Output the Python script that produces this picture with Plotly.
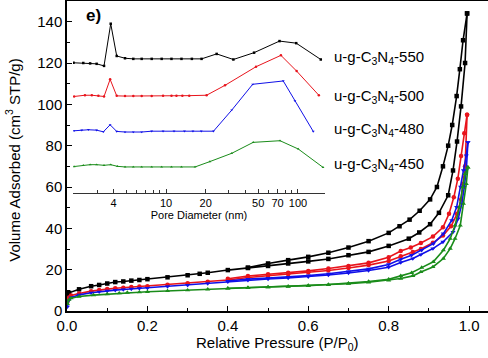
import plotly.graph_objects as go

# ---------------- main isotherm data (P/P0, volume adsorbed) ----------------
ads_550_x = [0.001, 0.005, 0.03, 0.06, 0.08, 0.10, 0.12, 0.14, 0.16, 0.18, 0.20, 0.25, 0.30, 0.33, 0.35, 0.40,
             0.45, 0.50, 0.55, 0.60, 0.65, 0.70, 0.75, 0.80, 0.85, 0.876, 0.903, 0.925, 0.948, 0.96, 0.97, 0.98, 0.99, 0.995]
ads_550_y = [7.5, 8.8, 10.5, 12.0, 12.6, 13.3, 14.0, 14.3, 14.7, 15.0, 15.4, 16.3, 17.3, 18.0, 18.5, 19.8,
             20.8, 21.8, 23.0, 24.0, 25.2, 27.0, 28.6, 31.5, 35.0, 38.0, 42.0, 47.5, 56.0, 68.0, 82.0, 99.0, 120.0, 144.0]
des_550_x = [0.995, 0.985, 0.977, 0.969, 0.958, 0.948, 0.935, 0.92, 0.903, 0.877, 0.852, 0.827, 0.80, 0.75,
             0.70, 0.65, 0.60, 0.55, 0.50, 0.45]
des_550_y = [144.0, 131.0, 117.0, 104.0, 90.0, 80.0, 70.0, 60.0, 54.0, 48.5, 44.2, 41.0, 37.8, 33.8,
             30.7, 28.2, 26.2, 24.6, 23.0, 21.0]

ads_500_x = [0.001, 0.005, 0.01, 0.03, 0.06, 0.08, 0.10, 0.12, 0.14, 0.16, 0.18, 0.20, 0.25, 0.30, 0.35, 0.40,
             0.45, 0.50, 0.55, 0.60, 0.65, 0.70, 0.75, 0.80, 0.83, 0.86, 0.88, 0.91, 0.935, 0.955, 0.97, 0.98, 0.985, 0.99, 0.995]
ads_500_y = [4.5, 6.5, 7.5, 8.5, 9.6, 10.2, 10.6, 11.0, 11.3, 11.6, 11.8, 12.0, 12.7, 13.4, 14.2, 15.0,
             16.2, 17.0, 17.8, 18.6, 19.6, 20.8, 22.2, 24.2, 26.5, 28.5, 30.0, 33.0, 36.5, 41.0, 47.0, 54.0, 61.5, 70.0, 95.0]
des_500_x = [0.995, 0.988, 0.98, 0.972, 0.962, 0.95, 0.935, 0.91, 0.88, 0.855, 0.83, 0.80, 0.75, 0.70,
             0.65, 0.60, 0.55, 0.50, 0.45, 0.40]
des_500_y = [95.0, 86.0, 75.0, 64.0, 55.0, 47.0, 40.5, 36.0, 32.9, 30.7, 29.0, 26.0, 23.3, 21.8,
             20.6, 19.4, 18.5, 17.8, 16.9, 15.6]

ads_480_x = [0.001, 0.004, 0.01, 0.03, 0.06, 0.08, 0.10, 0.12, 0.14, 0.16, 0.18, 0.20, 0.25, 0.30, 0.35, 0.40,
             0.45, 0.50, 0.55, 0.60, 0.65, 0.70, 0.75, 0.80, 0.83, 0.86, 0.88, 0.91, 0.935, 0.96, 0.973, 0.982, 0.988, 0.993, 0.997]
ads_480_y = [2.0, 5.0, 6.5, 7.8, 8.8, 9.3, 9.7, 10.1, 10.4, 10.7, 10.9, 11.1, 11.8, 12.5, 13.3, 14.1,
             14.9, 15.5, 16.0, 16.6, 17.4, 18.4, 19.6, 21.2, 23.5, 25.4, 27.3, 30.2, 33.4, 38.2, 44.7, 52.0, 60.0, 68.0, 81.6]
des_480_x = [0.997, 0.993, 0.986, 0.979, 0.969, 0.957, 0.936, 0.911, 0.882, 0.857, 0.83, 0.80, 0.75, 0.70,
             0.65, 0.60, 0.55, 0.50, 0.45, 0.40]
des_480_y = [81.6, 75.2, 68.0, 60.0, 50.3, 43.9, 37.4, 32.6, 29.4, 27.0, 25.0, 22.5, 20.4, 19.1,
             18.0, 17.1, 16.4, 15.9, 15.4, 14.5]

ads_450_x = [0.001, 0.005, 0.01, 0.03, 0.066, 0.10, 0.13, 0.15, 0.18, 0.20, 0.25, 0.30, 0.35, 0.40,
             0.45, 0.50, 0.55, 0.60, 0.65, 0.70, 0.75, 0.80, 0.83, 0.86, 0.88, 0.91, 0.936, 0.953, 0.965, 0.978, 0.986, 0.993, 0.997]
ads_450_y = [3.5, 5.5, 6.2, 7.0, 7.7, 8.2, 8.6, 8.9, 9.1, 9.3, 9.7, 10.1, 10.5, 10.9,
             11.2, 11.5, 11.8, 12.2, 12.6, 13.2, 13.9, 14.8, 15.7, 17.0, 18.9, 21.3, 25.4, 30.2, 35.0, 41.4, 51.9, 61.5, 69.5]
des_450_x = [0.997, 0.99, 0.984, 0.976, 0.965, 0.953, 0.936, 0.911, 0.882, 0.857, 0.83, 0.80, 0.75, 0.70,
             0.65, 0.60, 0.55, 0.50, 0.45, 0.40]
des_450_y = [69.5, 66.4, 60.0, 50.3, 41.4, 35.0, 29.4, 23.8, 21.0, 18.5, 17.0, 15.4, 14.3, 13.4,
             12.8, 12.3, 11.9, 11.6, 11.3, 11.0]

# ---------------- inset pore size distribution (pore diameter nm, offset curve) ----------------
psd_550_x = [1.99, 2.36, 2.66, 2.98, 3.39, 3.81, 4.23, 4.89, 5.65, 6.54, 7.79, 9.27, 11.0, 13.1, 15.7, 18.6,
             24.2, 32.4, 46.5, 72.5, 97.0, 149.0]
psd_550_y = [120.1, 120.0, 119.8, 119.6, 118.6, 139.0, 123.4, 122.3, 122.0, 122.0, 122.0, 122.0, 122.0, 122.0, 122.0, 122.0,
             124.4, 121.7, 125.0, 130.6, 129.6, 121.7]
psd_500_x = [2.01, 2.43, 2.74, 3.07, 3.39, 3.77, 4.23, 4.89, 5.65, 6.54, 7.79, 9.5, 11.0, 12.0, 13.3, 15.0, 20.3,
             28.0, 48.1, 74.3, 97.7, 144.0]
psd_500_y = [103.8, 104.4, 104.4, 104.2, 103.8, 112.1, 104.1, 104.0, 104.0, 104.0, 104.0, 104.2, 104.2, 104.2, 104.2, 104.2, 104.4,
             109.2, 118.2, 123.7, 116.1, 104.4]
psd_480_x = [2.01, 2.3, 2.58, 2.98, 3.35, 3.77, 4.23, 4.89, 5.65, 6.54, 7.79, 9.5, 11.5, 13.8, 16.0, 18.5, 22.9,
             31.5, 45.4, 77.4, 94.8, 130.6]
psd_480_y = [87.2, 87.5, 87.7, 87.5, 86.7, 90.1, 86.9, 86.6, 86.6, 86.6, 87.0, 87.0, 87.0, 87.0, 87.0, 87.0, 87.0,
             97.2, 109.7, 111.3, 101.7, 86.9]
psd_450_x = [2.01, 2.36, 2.66, 2.98, 3.39, 3.81, 4.28, 4.89, 5.65, 6.54, 7.79, 9.27, 11.0, 13.1, 16.6,
             21.5, 31.5, 45.8, 73.1, 100.5, 154.9]
psd_450_y = [69.9, 70.5, 70.8, 70.8, 70.5, 70.8, 70.0, 69.7, 69.7, 69.7, 69.7, 69.7, 69.7, 69.7, 69.7,
             72.3, 76.3, 81.6, 82.4, 78.4, 69.5]

sample_labels = ["u-g-C<sub>3</sub>N<sub>4</sub>-550", "u-g-C<sub>3</sub>N<sub>4</sub>-500",
                 "u-g-C<sub>3</sub>N<sub>4</sub>-480", "u-g-C<sub>3</sub>N<sub>4</sub>-450"]
label_levels = [0.819, 0.6935, 0.584, 0.471]

x_ticks = [0.0, 0.2, 0.4, 0.6, 0.8, 1.0]
y_ticks = [0, 20, 40, 60, 80, 100, 120, 140]
inset_major_ticks = [4, 10, 20, 50, 70, 100]
inset_minor_ticks = [2, 3, 5, 6, 7, 8, 9, 30, 40, 60, 80, 90]

colors = ["#000000", "#e8141c", "#1010e8", "#1a8c1a"]
symbols = ["square", "circle", "triangle-down", "triangle-up"]

fig = go.Figure()

main_sets = [(ads_550_x, ads_550_y, des_550_x, des_550_y),
             (ads_500_x, ads_500_y, des_500_x, des_500_y),
             (ads_480_x, ads_480_y, des_480_x, des_480_y),
             (ads_450_x, ads_450_y, des_450_x, des_450_y)]
for (ax_, ay_, dx_, dy_), c, s in zip(main_sets, colors, symbols):
    for xx, yy in ((ax_, ay_), (dx_, dy_)):
        fig.add_trace(go.Scatter(x=xx, y=yy, mode="lines+markers",
                                 line=dict(color=c, width=1.6),
                                 marker=dict(symbol=s, size=4.5, color=c),
                                 xaxis="x", yaxis="y", showlegend=False))

inset_sets = [(psd_550_x, psd_550_y), (psd_500_x, psd_500_y), (psd_480_x, psd_480_y), (psd_450_x, psd_450_y)]
for (xx, yy), c, s in zip(inset_sets, colors, symbols):
    fig.add_trace(go.Scatter(x=xx, y=yy, mode="lines+markers",
                             line=dict(color=c, width=1),
                             marker=dict(symbol=s, size=2.5, color=c),
                             xaxis="x2", yaxis="y", showlegend=False))

font_main = "Liberation Sans, Arial, sans-serif"

fig.update_layout(
    width=488, height=358,
    margin=dict(l=67, r=0, t=1, b=47),
    paper_bgcolor="white", plot_bgcolor="rgba(0,0,0,0)",
    font=dict(family=font_main, color="black", size=15),
    xaxis=dict(range=[0, 1.047], tickvals=x_ticks, tickformat=".1f", automargin=False,
               ticks="inside", ticklen=5, tickwidth=1.2, tickcolor="black",
               minor=dict(dtick=0.1, tick0=0, ticks="inside", ticklen=3, tickcolor="black"),
               showline=True, linecolor="black", linewidth=1.5, mirror=True,
               showgrid=False, zeroline=False,
               tickfont=dict(size=15)),
    yaxis=dict(range=[0, 150], tickvals=y_ticks, automargin=False,
               ticks="inside", ticklen=5, tickwidth=1.2, tickcolor="black",
               minor=dict(dtick=10, tick0=0, ticks="inside", ticklen=3, tickcolor="black"),
               showline=True, linecolor="black", linewidth=1.5, mirror=True,
               showgrid=False, zeroline=False,
               tickfont=dict(size=15)),
    xaxis2=dict(type="log", range=[0.295, 2.205], domain=[0.01425, 0.6128],
                anchor="free", position=0.3806, automargin=False,
                tickvals=inset_major_ticks, ticktext=[str(v) for v in inset_major_ticks],
                ticks="inside", ticklen=3.5, tickwidth=1, tickcolor="#333333",
                minor=dict(tickvals=inset_minor_ticks, ticks="inside", ticklen=2.5, tickcolor="#333333"),
                showline=True, linecolor="#333333", linewidth=1.2,
                showgrid=False, zeroline=False,
                tickfont=dict(size=11),
                title=dict(text="Pore Diameter (nm)", font=dict(size=11), standoff=1)),
)

# axis titles as annotations for exact placement
fig.add_annotation(text="Relative Pressure (P/P<sub>0</sub>)", xref="paper", yref="paper",
                   x=0.5, y=-0.106, xanchor="center", yanchor="middle", showarrow=False,
                   font=dict(size=15, color="black"))
fig.add_annotation(text="Volume Adsorbed (cm<sup>3</sup> STP/g)", xref="paper", yref="paper",
                   x=-0.128, y=0.485, xanchor="center", yanchor="middle", showarrow=False,
                   textangle=-90, font=dict(size=15, color="black"))

for lab, lvl in zip(sample_labels, label_levels):
    fig.add_annotation(text=lab, xref="paper", yref="paper", x=0.629, y=lvl,
                       xanchor="left", yanchor="middle", showarrow=False,
                       font=dict(size=15, color="black"))

fig.add_annotation(text="<b>e)</b>", xref="paper", yref="paper", x=0.04, y=0.952,
                   xanchor="left", yanchor="middle", showarrow=False,
                   font=dict(size=17, color="black"))

fig.write_html("out.html", config=dict(displayModeBar=False),
               post_script="document.body.style.margin='0';document.body.style.overflow='hidden';")
